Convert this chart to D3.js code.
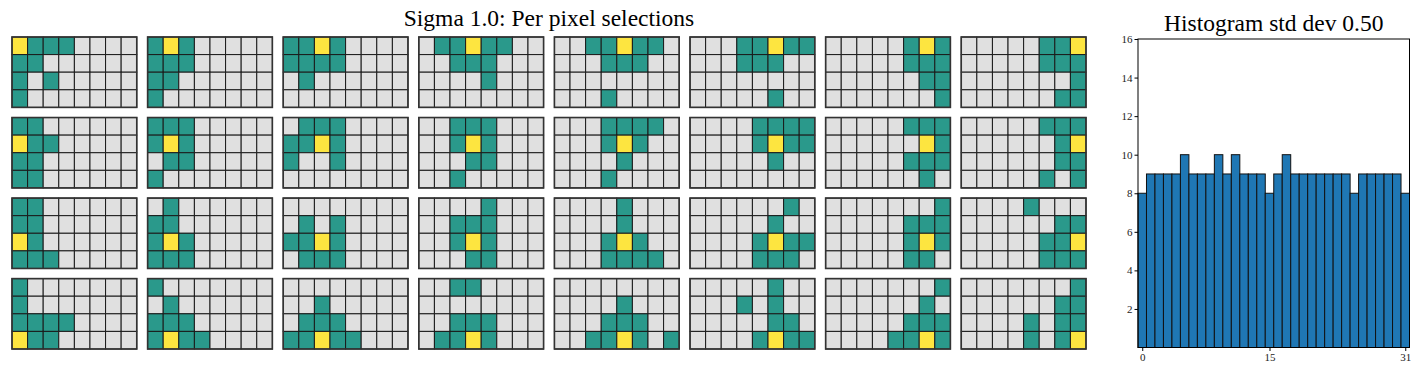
<!DOCTYPE html>
<html>
<head>
<meta charset="utf-8">
<script src="https://cdn.jsdelivr.net/npm/d3@7"></script>
<style>
  body { margin: 0; background: #fff; }
  text { font-family: "Liberation Serif", "DejaVu Serif", serif; }
</style>
</head>
<body>
<svg id="chart" width="1420" height="376"></svg>
<script>
(function () {
  // 4 x 8 image, one panel per pixel
  var gridRows = 4,
    gridCols = 8;

  // teal cells picked for each pixel (index = row * 8 + col), panel i is pixel i
  var selections = [
    [1, 2, 3, 8, 9, 16, 18, 24],
    [0, 2, 8, 9, 10, 16, 17, 24],
    [0, 1, 3, 8, 9, 10, 11, 17],
    [1, 2, 4, 5, 10, 11, 12, 20],
    [2, 3, 5, 6, 11, 12, 13, 27],
    [3, 4, 6, 7, 11, 12, 13, 29],
    [5, 7, 13, 14, 15, 22, 23, 31],
    [5, 6, 13, 14, 15, 23, 30, 31],
    [0, 1, 9, 10, 16, 17, 24, 25],
    [0, 1, 2, 8, 10, 17, 18, 24],
    [1, 2, 3, 8, 9, 11, 16, 19],
    [2, 3, 4, 10, 12, 19, 20, 26],
    [3, 4, 5, 6, 11, 13, 20, 27],
    [4, 5, 6, 7, 12, 14, 15, 21],
    [5, 6, 7, 15, 21, 22, 23, 30],
    [5, 6, 7, 14, 22, 23, 29, 31],
    [0, 1, 8, 9, 17, 24, 25, 26],
    [1, 8, 9, 16, 18, 24, 25, 26],
    [9, 11, 16, 17, 19, 25, 26, 27],
    [4, 10, 11, 12, 18, 20, 27, 28],
    [4, 12, 19, 21, 27, 28, 29, 30],
    [6, 13, 20, 22, 23, 28, 29, 30],
    [7, 13, 14, 15, 21, 23, 29, 30],
    [4, 14, 15, 21, 22, 29, 30, 31],
    [0, 8, 16, 17, 18, 19, 25, 26],
    [0, 9, 16, 17, 18, 24, 26, 27],
    [10, 17, 18, 19, 24, 25, 27, 28],
    [2, 3, 18, 19, 20, 25, 26, 28],
    [12, 19, 20, 21, 26, 27, 29, 31],
    [5, 11, 13, 21, 22, 28, 30, 31],
    [7, 14, 21, 22, 23, 28, 29, 31],
    [7, 14, 15, 20, 22, 23, 28, 30],
  ];

  // how many panels selected each pixel
  var histCounts = [
    8, 9, 9, 9, 9, 10, 9, 9, 9, 10, 9, 10, 9, 9, 9, 8,
    9, 10, 9, 9, 9, 9, 9, 9, 9, 8, 9, 9, 9, 9, 9, 8,
  ];
  var yTicks = [2, 4, 6, 8, 10, 12, 14, 16];
  var xTicks = [0, 15, 31];

  var titleLeft = "Sigma 1.0: Per pixel selections",
    titleRight = "Histogram std dev 0.50";

  var colors = { off: "#e0e0e0", on: "#2a998b", self: "#fde540" };

  var svg = d3.select("#chart");

  // ============ panel grid ============ //
  var px = d3.scaleBand().domain(d3.range(gridCols)).range([12, 1086]).paddingInner(0.08);
  var py = d3.scaleBand().domain(d3.range(gridRows)).range([37, 349]).paddingInner(0.126);

  // cell scales inside one panel
  var cx = d3.scaleBand().domain(d3.range(gridCols)).range([0, px.bandwidth()]);
  var cy = d3.scaleBand().domain(d3.range(gridRows)).range([0, py.bandwidth()]);

  svg
    .append("text")
    .attr("x", (12 + 1086) / 2)
    .attr("y", 26)
    .attr("text-anchor", "middle")
    .style("font-size", "23.5px")
    .text(titleLeft);

  var panels = svg
    .append("g")
    .selectAll("g")
    .data(selections)
    .join("g")
    .attr("transform", (d, i) => `translate(${px(i % gridCols)},${py(Math.floor(i / gridCols))})`);

  panels
    .selectAll("rect.cell")
    .data((d, i) =>
      d3.range(gridRows * gridCols).map((k) => ({
        k: k,
        state: k === i ? "self" : d.includes(k) ? "on" : "off",
      }))
    )
    .join("rect")
    .attr("class", "cell")
    .attr("x", (d) => cx(d.k % gridCols))
    .attr("y", (d) => cy(Math.floor(d.k / gridCols)))
    .attr("width", cx.bandwidth())
    .attr("height", cy.bandwidth())
    .attr("fill", (d) => colors[d.state])
    .attr("stroke", "#1a1a1a")
    .attr("stroke-width", 1);

  panels
    .append("rect")
    .attr("width", px.bandwidth())
    .attr("height", py.bandwidth())
    .attr("fill", "none")
    .attr("stroke", "#333")
    .attr("stroke-width", 1.6);

  // ============ histogram ============ //
  var hx = d3.scaleLinear().domain([-0.5, 31.5]).range([1138, 1409.5]);
  var hy = d3.scaleLinear().domain([0, 16]).range([347.5, 39]);

  var hist = svg.append("g");

  hist
    .selectAll("rect")
    .data(histCounts)
    .join("rect")
    .attr("x", (d, i) => hx(i - 0.5))
    .attr("y", (d) => hy(d))
    .attr("width", hx(1) - hx(0))
    .attr("height", (d) => hy(0) - hy(d))
    .attr("fill", "#1f77b4")
    .attr("stroke", "#111")
    .attr("stroke-width", 1);

  hist
    .append("rect")
    .attr("x", 1138)
    .attr("y", 39)
    .attr("width", 1409.5 - 1138)
    .attr("height", 347.5 - 39)
    .attr("fill", "none")
    .attr("stroke", "#000")
    .attr("stroke-width", 1);

  hist
    .append("g")
    .attr("transform", "translate(0,347.5)")
    .call(d3.axisBottom(hx).tickValues(xTicks).tickSize(3.5).tickPadding(2).tickFormat(d3.format("d")))
    .call((g) => g.select(".domain").remove())
    .call((g) => g.selectAll("text").style("font-size", "11px").attr("fill", "#222"));

  hist
    .append("g")
    .attr("transform", "translate(1138,0)")
    .call(d3.axisLeft(hy).tickValues(yTicks).tickSize(3.5).tickPadding(2).tickFormat(d3.format("d")))
    .call((g) => g.select(".domain").remove())
    .call((g) => g.selectAll("text").style("font-size", "11px").attr("fill", "#222"));

  svg
    .append("text")
    .attr("x", (1138 + 1409.5) / 2)
    .attr("y", 31)
    .attr("text-anchor", "middle")
    .style("font-size", "23.5px")
    .text(titleRight);
})();
</script>
</body>
</html>
